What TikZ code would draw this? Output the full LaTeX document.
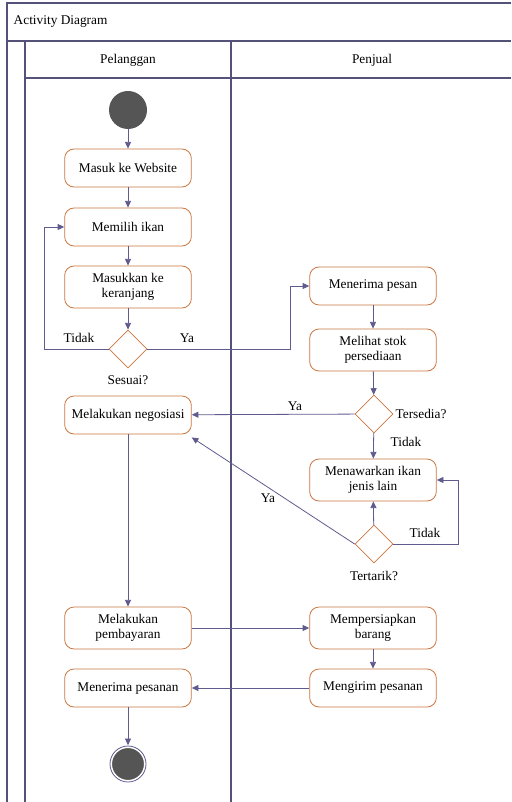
\documentclass[tikz,border=0pt]{standalone}
\usepackage{fontspec}
\setmainfont{Liberation Serif}
\usetikzlibrary{arrows.meta,shapes.geometric,calc}

\definecolor{framecol}{HTML}{55527A}
\definecolor{boxcol}{HTML}{C9763F}
\definecolor{linecol}{HTML}{5F5B8E}
\definecolor{dotcol}{HTML}{555555}

\begin{document}
\begin{tikzpicture}[
  x=0.75pt, y=-0.75pt,
  font=\fontsize{10}{11.5}\selectfont,
  frame/.style={draw=framecol, line width=0.8pt},
  action/.style={draw=boxcol, line width=0.6pt, rounded corners=7pt, fill=white,
    minimum width=95pt, minimum height=28.5pt, align=center, inner sep=2pt},
  tall action/.style={action, minimum height=31.5pt},
  decision/.style={diamond, draw=boxcol, line width=0.6pt, fill=white,
    minimum width=28.5pt, minimum height=28.5pt, inner sep=0pt},
  start/.style={circle, fill=dotcol, minimum size=28.5pt, inner sep=0pt},
  finish/.style={circle, fill=dotcol, draw=white, line width=1.2pt, double=linecol,
    double distance=0.6pt, minimum size=27pt, inner sep=0pt},
  flow/.style={draw=linecol, line width=0.6pt, -{Triangle[length=5pt,width=4.5pt]}},
  plain flow/.style={draw=linecol, line width=0.6pt},
  label text/.style={inner sep=1pt}
]
\useasboundingbox (0,0) rectangle (511,802);

% frame and swimlanes
\draw[frame] (511,3) -- (7,3) -- (7,802);
\draw[frame] (7,41) -- (511,41);
\draw[frame] (25,41) -- (25,802);
\draw[frame] (25,78) -- (511,78);
\draw[frame] (231,41) -- (231,802);
\node[anchor=west] (title) at (9,22) {Activity Diagram};
\node (laneP) at (128,60) {Pelanggan};
\node (laneJ) at (372,60) {Penjual};

% Pelanggan
\node[start] (mulai) at (128,110) {};
\node[action] (website) at (128,168) {Masuk ke Website};
\node[action] (pilih) at (128,227) {Memilih ikan};
\node[tall action] (keranjang) at (128,287) {Masukkan ke\\keranjang};
\node[decision] (sesuai) at (128,349) {};
\node[action] (negosiasi) at (128,415) {Melakukan negosiasi};
\node[tall action] (bayar) at (128,628) {Melakukan\\pembayaran};
\node[action] (terima) at (128,688) {Menerima pesanan};
\node[finish] (selesai) at (128,764) {};

% Penjual
\node[action] (pesan) at (373,286) {Menerima pesan};
\node[tall action] (stok) at (373,350) {Melihat stok\\persediaan};
\node[decision] (tersedia) at (374,414) {};
\node[tall action] (tawar) at (373,480) {Menawarkan ikan\\jenis lain};
\node[decision] (tertarik) at (374,544) {};
\node[tall action] (siap) at (373,628) {Mempersiapkan\\barang};
\node[action] (kirim) at (373,688) {Mengirim pesanan};

% connectors
\draw[flow] (mulai) -- (website);
\draw[flow] (website) -- (pilih);
\draw[flow] (pilih) -- (keranjang);
\draw[flow] (keranjang) -- (sesuai);
\draw[flow] (sesuai.west) -- ++(-64,0) |- (pilih.west);
\draw[flow] (sesuai.east) -- (290,349) |- (pesan.west);
\draw[flow] (pesan) -- (stok);
\draw[flow] (stok) -- (tersedia);
\draw[flow] (tersedia) -- (negosiasi);
\draw[flow] (tersedia) -- (tawar);
\draw[flow] (tertarik) -- (tawar);
\draw[flow] (tertarik.east) -- (458,544) |- (tawar.east);
\draw[flow] (tertarik.west) -- ($(negosiasi.south east)+(0,3)$);
\draw[flow] (negosiasi) -- (bayar);
\draw[flow] (bayar) -- (siap);
\draw[flow] (siap) -- (kirim);
\draw[flow] (kirim) -- (terima);
\draw[flow] (terima) -- (selesai);

% guard labels
\node[label text] (tidakA) at (79,338) {Tidak};
\node[label text] (yaA) at (187,338) {Ya};
\node[label text] (sesuaiq) at (128,380) {Sesuai?};
\node[label text] (yaB) at (295,406) {Ya};
\node[label text, anchor=west] (tersediaq) at (394,414) {Tersedia?};
\node[label text] (tidakB) at (406,442) {Tidak};
\node[label text] (yaC) at (268,498) {Ya};
\node[label text] (tidakC) at (425,533) {Tidak};
\node[label text] (tertarikq) at (374,576) {Tertarik?};
\end{tikzpicture}
\end{document}
